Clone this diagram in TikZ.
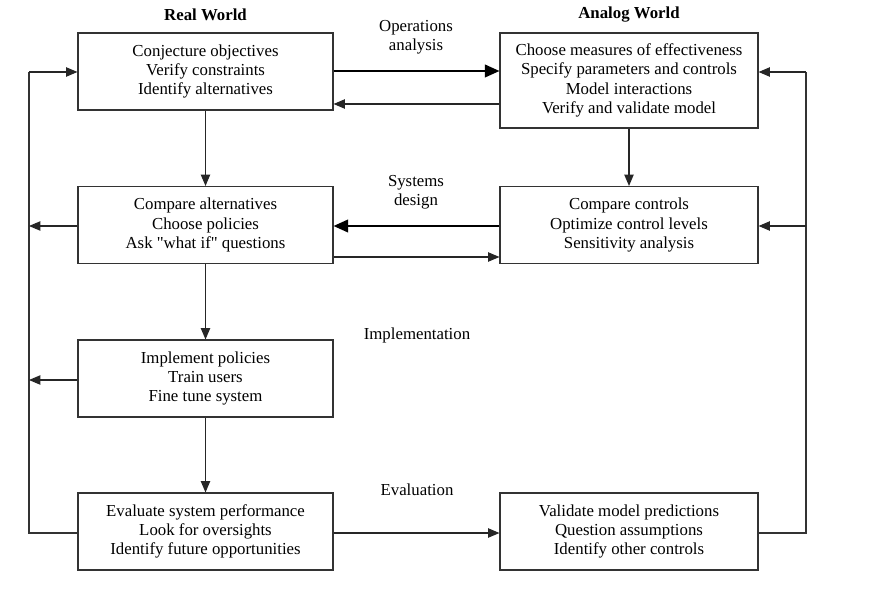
\documentclass[tikz,border=0pt]{standalone}
\usepackage{fontspec}
\setmainfont{Liberation Serif}
\usetikzlibrary{arrows.meta}
\begin{document}
\begin{tikzpicture}[x=0.75pt,y=-0.75pt,
  font=\fontsize{12.6}{14.5}\selectfont,
  box/.style={draw=black!80,line width=0.8pt,inner sep=0pt,align=center,
    minimum width=255*0.75pt,minimum height=77*0.75pt},
  rbox/.style={box,minimum width=258*0.75pt},
  lbl/.style={align=center,inner sep=0pt},
  thin arrow/.style={draw=black!85,line width=0.8pt,-{Triangle[length=8.5pt,width=7pt]}},
  thick arrow/.style={draw=black,line width=1.6pt,-{Triangle[length=11pt,width=9.5pt]}},
  plain/.style={draw=black!80,line width=0.8pt}]
\useasboundingbox (0,0) rectangle (873,595);

\node[box] (L1) at (205.5,71.5) {Conjecture objectives\\Verify constraints\\Identify alternatives};
\node[box] (L2) at (205.5,225) {Compare alternatives\\Choose policies\\Ask \textquotedbl what if\textquotedbl{} questions};
\node[box] (L3) at (205.5,378.5) {Implement policies\\Train users\\Fine tune system};
\node[box] (L4) at (205.5,531.5) {Evaluate system performance\\Look for oversights\\Identify future opportunities};

\node[rbox,minimum height=95*0.75pt] (R1) at (629,80.5) {Choose measures of effectiveness\\Specify parameters and controls\\Model interactions\\Verify and validate model};
\node[rbox] (R2) at (629,225) {Compare controls\\Optimize control levels\\Sensitivity analysis};
\node[rbox] (R3) at (629,531.5) {Validate model predictions\\Question assumptions\\Identify other controls};

\node[lbl,font=\fontsize{12.6}{14.5}\selectfont\bfseries] (hR) at (205.5,15) {Real World};
\node[lbl,font=\fontsize{12.6}{14.5}\selectfont\bfseries] (hA) at (629,15) {Analog World};
\node[lbl] (op) at (416,37) {Operations\\analysis};
\node[lbl] (sd) at (416,192) {Systems\\design};
\node[lbl] (im) at (417,335) {Implementation};
\node[lbl] (ev) at (417,490) {Evaluation};

% horizontal connections
\draw[thick arrow] (L1.east |- 0,71) -- (R1.west |- 0,71);
\draw[thin arrow] (R1.west |- 0,104) -- (L1.east |- 0,104);
\draw[thick arrow] (R2.west |- 0,226) -- (L2.east |- 0,226);
\draw[thin arrow] (L2.east |- 0,257) -- (R2.west |- 0,257);
\draw[thin arrow] (L4.east |- 0,533) -- (R3.west |- 0,533);

% vertical connections
\draw[thin arrow] (L1.south) -- (L2.north);
\draw[thin arrow] (L2.south) -- (L3.north);
\draw[thin arrow] (L3.south) -- (L4.north);
\draw[thin arrow] (R1.south) -- (R2.north);

% left feedback loop
\coordinate (lt) at (29,72);
\coordinate (lb) at (29,533);
\draw[plain] (L4.west |- lb) -- (lb) -- (lt);
\draw[thin arrow] (lt) -- (L1.west |- lt);
\draw[thin arrow] (L2.west |- 0,226) -- (29,226);
\draw[thin arrow] (L3.west |- 0,380) -- (29,380);

% right feedback loop
\coordinate (rt) at (806,72);
\coordinate (rb) at (806,533);
\draw[plain] (R3.east |- rb) -- (rb) -- (rt);
\draw[thin arrow] (rt) -- (R1.east |- rt);
\draw[thin arrow] (806,226) -- (R2.east |- 0,226);
\end{tikzpicture}
\end{document}
